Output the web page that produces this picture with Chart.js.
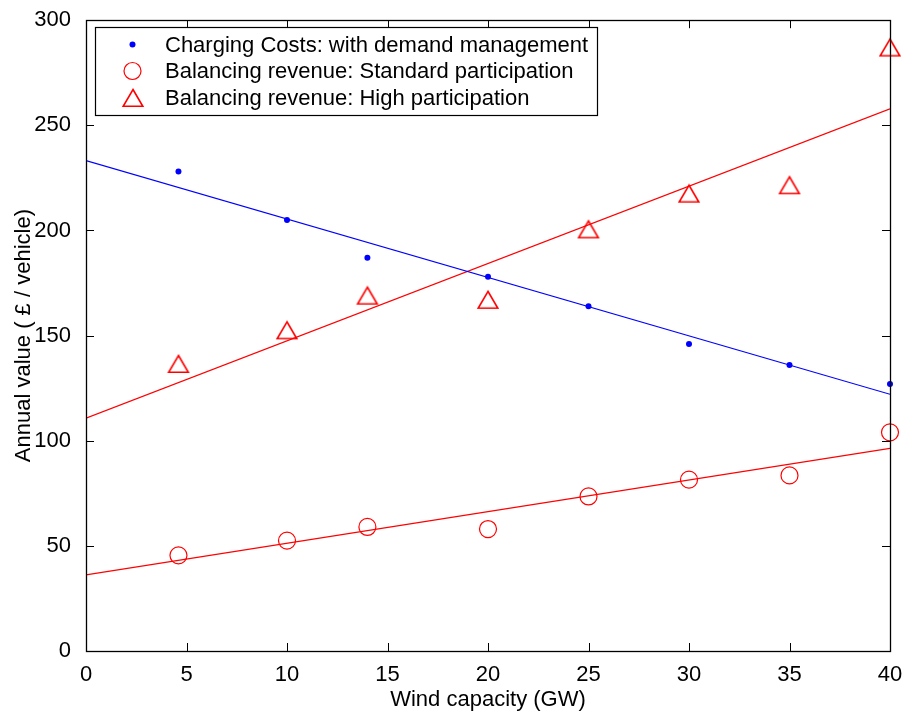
<!DOCTYPE html>
<html>
<head>
<meta charset="utf-8">
<script src="https://cdn.jsdelivr.net/npm/chart.js@4/dist/chart.umd.min.js"></script>
<style>
  html, body { margin: 0; padding: 0; background: #fff; }
  #chart { display: block; }
</style>
</head>
<body>
<canvas id="chart" width="907" height="713"></canvas>
<script>
// values
const windGW = [4.6, 10, 14, 20, 25, 30, 35, 40];
const chargingCosts = [228, 205, 187, 178, 164, 146, 136, 127];
const standardRevenue = [45.5, 52.5, 59, 58, 73.5, 81.5, 83.5, 104];
const highRevenue = [136.5, 152.5, 169, 167, 200.5, 217.5, 221.5, 287];

// fitted trend lines (end points)
const fitX = [0, 40];
const chargingFit = [233.2, 122.1];
const standardFit = [36.2, 96.4];
const highFit = [110.7, 257.8];

const seriesLabels = [
  'Charging Costs: with demand management',
  'Balancing revenue: Standard participation',
  'Balancing revenue: High participation'
];
const xTitle = 'Wind capacity (GW)';
const yTitle = 'Annual value ( \u00a3 / vehicle)';

const FONT = '"Liberation Sans", Arial, Helvetica, sans-serif';
const BLUE = '#0000ff';
const RED = '#ff0000';

const pairs = (xs, ys) => xs.map((x, i) => ({ x: x, y: ys[i] }));

// triangle marker centred on its bounding box (matlab style)
function makeTriangle() {
  const c = document.createElement('canvas');
  c.width = 24; c.height = 22;
  const g = c.getContext('2d');
  g.strokeStyle = RED;
  g.lineWidth = 1.6;
  g.beginPath();
  g.moveTo(12, 2.5);
  g.lineTo(21.8, 19.3);
  g.lineTo(2.2, 19.3);
  g.closePath();
  g.stroke();
  return c;
}
const triangle = makeTriangle();

// inward ticks + box like matlab axes
const boxPlugin = {
  id: 'box',
  afterDraw(chart) {
    const { ctx, chartArea: a, scales } = chart;
    ctx.save();
    ctx.strokeStyle = '#000';
    ctx.lineWidth = 1;
    const tl = 8;
    scales.x.ticks.forEach(t => {
      const px = Math.round(scales.x.getPixelForValue(t.value)) + 0.5;
      ctx.beginPath();
      ctx.moveTo(px, a.bottom); ctx.lineTo(px, a.bottom - tl);
      ctx.moveTo(px, a.top); ctx.lineTo(px, a.top + tl);
      ctx.stroke();
    });
    scales.y.ticks.forEach(t => {
      const py = Math.round(scales.y.getPixelForValue(t.value)) + 0.5;
      ctx.beginPath();
      ctx.moveTo(a.left, py); ctx.lineTo(a.left + tl, py);
      ctx.moveTo(a.right, py); ctx.lineTo(a.right - tl, py);
      ctx.stroke();
    });
    ctx.lineWidth = 1.3;
    ctx.strokeRect(Math.round(a.left) + 0.5, Math.round(a.top) + 0.5,
      Math.round(a.right - a.left), Math.round(a.bottom - a.top));

    // legend box
    const lx = 95, ly = 27, lw = 502, lh = 88;
    ctx.fillStyle = '#fff';
    ctx.fillRect(lx, ly, lw, lh);
    ctx.lineWidth = 1.2;
    ctx.strokeRect(lx + 0.5, ly + 0.5, lw, lh);
    const rows = [44.5, 71, 97.5];
    const mx = 132.5;
    ctx.fillStyle = BLUE;
    ctx.beginPath(); ctx.arc(mx, rows[0], 3, 0, Math.PI * 2); ctx.fill();
    ctx.strokeStyle = RED; ctx.lineWidth = 1.2;
    ctx.beginPath(); ctx.arc(mx, rows[1], 8.5, 0, Math.PI * 2); ctx.stroke();
    ctx.drawImage(triangle, Math.round(mx - 12), Math.round(rows[2] - 11));
    ctx.fillStyle = '#000';
    ctx.font = '22px ' + FONT;
    ctx.textBaseline = 'middle';
    ctx.textAlign = 'left';
    seriesLabels.forEach((s, i) => ctx.fillText(s, 165, rows[i] + 1));
    ctx.restore();
  }
};

new Chart(document.getElementById('chart'), {
  type: 'scatter',
  data: {
    datasets: [
      { label: seriesLabels[0], data: pairs(windGW, chargingCosts), pointStyle: 'circle',
        pointRadius: 3, backgroundColor: BLUE, borderColor: BLUE, borderWidth: 0, clip: false },
      { label: 'fit1', type: 'line', data: pairs(fitX, chargingFit), borderColor: BLUE,
        borderWidth: 1.2, pointRadius: 0, fill: false },
      { label: seriesLabels[1], data: pairs(windGW, standardRevenue), pointStyle: 'circle',
        pointRadius: 8.5, backgroundColor: 'rgba(0,0,0,0)', borderColor: RED, borderWidth: 1.2, clip: false },
      { label: 'fit2', type: 'line', data: pairs(fitX, standardFit), borderColor: RED,
        borderWidth: 1.2, pointRadius: 0, fill: false },
      { label: seriesLabels[2], data: pairs(windGW, highRevenue), pointStyle: triangle,
        pointRadius: 11, backgroundColor: 'rgba(0,0,0,0)', borderColor: RED, clip: false },
      { label: 'fit3', type: 'line', data: pairs(fitX, highFit), borderColor: RED,
        borderWidth: 1.2, pointRadius: 0, fill: false }
    ]
  },
  options: {
    responsive: false,
    animation: false,
    events: [],
    layout: { padding: { top: 18, right: 17, left: 0, bottom: 0 } },
    plugins: { legend: { display: false }, tooltip: { enabled: false } },
    scales: {
      x: {
        type: 'linear', min: 0, max: 40,
        afterFit: s => { s.height = 62; },
        ticks: { stepSize: 5, color: '#000', padding: 3, maxRotation: 0, font: { family: FONT, size: 22 } },
        grid: { display: false },
        border: { display: false },
        title: { display: true, text: xTitle, color: '#000', padding: { top: 0, bottom: 0 },
          font: { family: FONT, size: 22 } }
      },
      y: {
        min: 0, max: 300,
        afterFit: s => { s.width = 86; },
        ticks: { stepSize: 50, color: '#000', padding: 7, font: { family: FONT, size: 22 } },
        grid: { display: false },
        border: { display: false },
        title: { display: true, text: yTitle, color: '#000', padding: { top: 11, bottom: 0 },
          font: { family: FONT, size: 22 } }
      }
    }
  },
  plugins: [boxPlugin]
});
</script>
</body>
</html>
